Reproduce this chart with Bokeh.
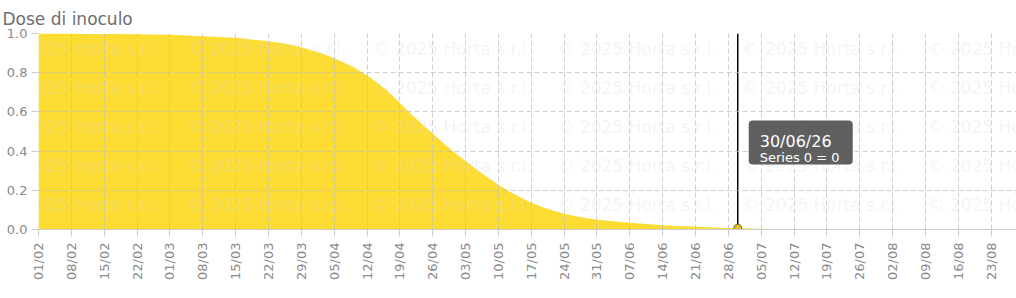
import pandas as pd
from math import pi
from bokeh.plotting import figure
from bokeh.models import (Range1d, FixedTicker, DatetimeTickFormatter, Label,
                          BoxAnnotation, PrintfTickFormatter)
from bokeh.embed import file_html
from bokeh.resources import INLINE

# ---------------- data ----------------
YEAR = 2026
title_text = "Dose di inoculo"
dates = ["01/02", "08/02", "15/02", "22/02", "01/03", "08/03", "15/03", "22/03",
         "26/03", "29/03", "02/04", "05/04", "09/04", "12/04", "16/04", "19/04",
         "22/04", "26/04", "29/04", "03/05", "06/05", "10/05", "13/05", "17/05",
         "20/05", "24/05", "27/05", "31/05", "07/06", "14/06", "21/06", "28/06",
         "30/06", "07/07"]
values = [1.000, 0.999, 0.998, 0.996, 0.993, 0.986, 0.978, 0.960,
          0.947, 0.930, 0.902, 0.874, 0.830, 0.787, 0.715, 0.645,
          0.575, 0.490, 0.425, 0.350, 0.295, 0.228, 0.185, 0.137,
          0.108, 0.080, 0.065, 0.050, 0.034, 0.022, 0.014, 0.008,
          0.006, 0.003]
tick_labels = ["01/02", "08/02", "15/02", "22/02", "01/03", "08/03", "15/03",
               "22/03", "29/03", "05/04", "12/04", "19/04", "26/04", "03/05",
               "10/05", "17/05", "24/05", "31/05", "07/06", "14/06", "21/06",
               "28/06", "05/07", "12/07", "19/07", "26/07", "02/08", "09/08",
               "16/08", "23/08"]
y_ticks = [0.0, 0.2, 0.4, 0.6, 0.8, 1.0]
hover_date = "30/06"
hover_title = "30/06/26"
hover_text = "Series 0 = 0"
watermark = "\u00a9 2025 Horta s.r.l."

AREA_COLOR = "#FDDC33"
FONT = "DejaVu Sans"


def to_ms(s):
    d, m = s.split("/")
    return pd.Timestamp(year=YEAR, month=int(m), day=int(d)).value / 1e6


DAY = 86400000.0
xs = [to_ms(s) for s in dates]

# ---------------- layout ----------------
W, H = 1016, 298
L, R, T, B = 38, 0, 33, 69
x0 = to_ms(tick_labels[0])
x_end = x0 + 208.4 * DAY

p = figure(width=W, height=H, x_axis_type="datetime",
           x_range=Range1d(x0, x_end), y_range=Range1d(0, 1),
           output_backend="svg", toolbar_location=None,
           min_border_left=L, min_border_right=R,
           min_border_top=T, min_border_bottom=B)
p.outline_line_color = None
p.background_fill_color = "white"
p.border_fill_color = "white"

p.title.text = title_text
p.title.text_font = FONT
p.title.text_font_size = "17px"
p.title.text_font_style = "normal"
p.title.text_color = "#6e6e6e"
p.title.align = "left"
p.title.offset = -36
p.title.standoff = 10

fw = W - L - R
fh = H - T - B


def px2x(px):
    return x0 + (px - L) / fw * (x_end - x0)


def py2y(py):
    return (T + fh - py) / fh


def x2px(x):
    return L + (x - x0) / (x_end - x0) * fw


# area
p.varea(x=xs, y1=0, y2=values, fill_color=AREA_COLOR, fill_alpha=1.0)

# axes
p.xaxis.ticker = FixedTicker(ticks=[to_ms(s) for s in tick_labels])
fmt = "%d/%m"
p.xaxis.formatter = DatetimeTickFormatter(
    milliseconds=fmt, seconds=fmt, minsec=fmt, minutes=fmt, hourmin=fmt,
    hours=fmt, days=fmt, months=fmt, years=fmt)
p.xaxis.major_label_orientation = pi / 2
p.xaxis.major_label_text_font = FONT
p.xaxis.major_label_text_font_size = "13px"
p.xaxis.major_label_text_color = "#8a8a8a"
p.xaxis.axis_line_color = "#cccccc"
p.xaxis.major_tick_line_color = "#cccccc"
p.xaxis.major_tick_out = 7
p.xaxis.major_tick_in = 0
p.xaxis.minor_tick_line_color = None
p.xaxis.major_label_standoff = 6

p.yaxis.ticker = FixedTicker(ticks=y_ticks)
p.yaxis.formatter = PrintfTickFormatter(format="%.1f")
p.yaxis.major_label_text_font = FONT
p.yaxis.major_label_text_font_size = "13px"
p.yaxis.major_label_text_color = "#8a8a8a"
p.yaxis.axis_line_color = None
p.yaxis.major_tick_line_color = "#cccccc"
p.yaxis.major_tick_out = 7
p.yaxis.major_tick_in = 0
p.yaxis.minor_tick_line_color = None
p.yaxis.major_label_standoff = 4

for g in (p.xgrid, p.ygrid):
    g.grid_line_color = "#bdbdbd"
    g.grid_line_alpha = 0.75
    g.grid_line_dash = "5 3"
    g.level = "guide"

# hover marker
hx = to_ms(hover_date)
hv = values[dates.index(hover_date)]
p.segment(x0=[hx], y0=[p.y_range.start], x1=[hx], y1=[p.y_range.end],
          line_color="black", line_width=1.5)
p.scatter(x=[hx], y=[hv], size=8, fill_color="#e2c22e",
          line_color="#7a6a1a", line_width=1)

# watermark (rows that fall inside the plot frame)
for k in range(1, 6):
    for j in range(6):
        p.add_layout(Label(x=px2x(2 + 185 * j), y=py2y(9 + 39 * k),
                           text=watermark, text_font=FONT,
                           text_font_size="17px", text_color="#d9d9d9",
                           text_alpha=0.28, text_baseline="middle",
                           text_align="left"))

# tooltip
hpx = x2px(hx)
p.add_layout(BoxAnnotation(left=px2x(hpx + 11), right=px2x(hpx + 115),
                           top=py2y(120), bottom=py2y(164),
                           fill_color="#5f5f5f", fill_alpha=1.0,
                           line_color=None, border_radius=4))
p.add_layout(Label(x=px2x(hpx + 22), y=py2y(140.5), text=hover_title,
                   text_font=FONT, text_font_size="16px", text_color="white",
                   text_baseline="alphabetic", text_align="left"))
p.add_layout(Label(x=px2x(hpx + 22), y=py2y(156.5), text=hover_text,
                   text_font=FONT, text_font_size="13px", text_color="white",
                   text_baseline="alphabetic", text_align="left"))

open("out.html", "w").write(file_html(p, INLINE))
